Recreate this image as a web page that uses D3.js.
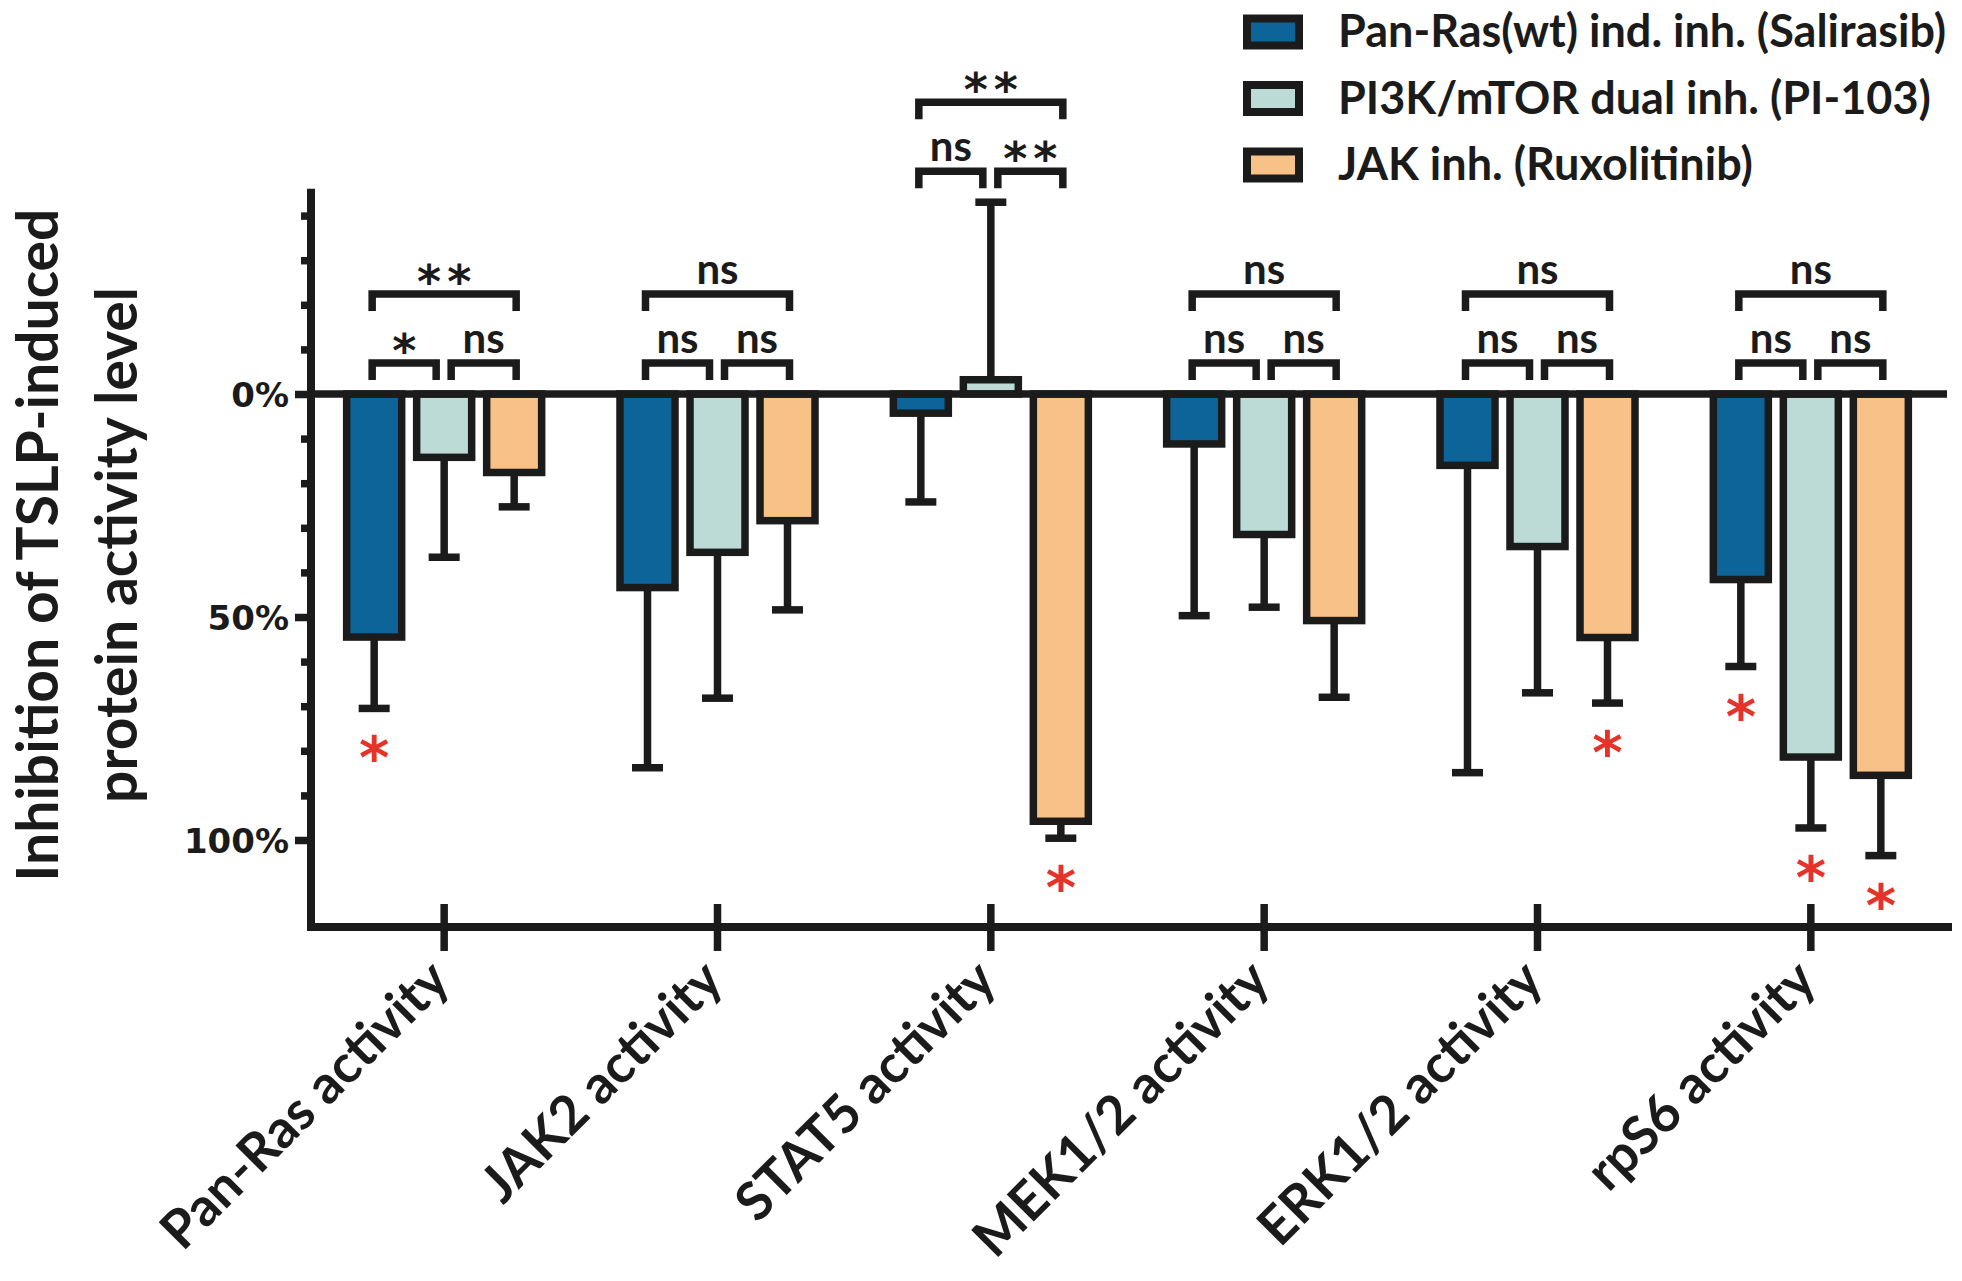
<!DOCTYPE html>
<html>
<head>
<meta charset="utf-8">
<script src="https://cdn.jsdelivr.net/npm/d3@7"></script>
<style>
  body { margin: 0; background: #fff; }
  svg { display: block; }
  text { font-family: Lato, "Open Sans", sans-serif; font-weight: 700; fill: #1b1b1b; }
  text.star { font-family: "DejaVu Sans", sans-serif; }
</style>
</head>
<body>
<svg id="chart" width="1962" height="1281"></svg>
<script>
// categories on the x axis
const categories = ["Pan-Ras activity", "JAK2 activity", "STAT5 activity", "MEK1/2 activity", "ERK1/2 activity", "rpS6 activity"];
const seriesNames = ["Pan-Ras(wt) ind. inh. (Salirasib)", "PI3K/mTOR dual inh. (PI-103)", "JAK inh. (Ruxolitinib)"];

// % inhibition (mean) and error (SD) for each inhibitor
const salirasib = [54.5, 43.4, 4.3, 11.2, 16.0, 41.6];
const salirasibErr = [16.0, 40.4, 19.9, 38.5, 68.9, 19.5];
const pi103 = [14.2, 35.5, -3.2, 31.5, 34.2, 81.4];
const pi103Err = [22.4, 32.7, 39.8, 16.3, 32.8, 15.9];
const ruxolitinib = [17.6, 28.4, 95.8, 50.8, 54.6, 85.5];
const ruxolitinibErr = [7.7, 20.0, 3.8, 17.2, 14.7, 18.0];

// significant vs TSLP alone (red star)
const salirasibSig = [true, false, false, false, false, true];
const pi103Sig = [false, false, false, false, false, true];
const ruxolitinibSig = [false, false, true, false, true, true];

// pairwise comparisons between inhibitors
const sigSalPi = ["*", "ns", "ns", "ns", "ns", "ns"];
const sigPiRux = ["ns", "ns", "**", "ns", "ns", "ns"];
const sigSalRux = ["**", "ns", "**", "ns", "ns", "ns"];

// y axis ticks
const majorTicks = [0, 50, 100];
const majorLabels = ["0%", "50%", "100%"];
const minorTicks = [-40, -30, -20, -10, 10, 20, 30, 40, 60, 70, 80, 90];
const yExtent = [-46, 119.5];

const colors = ["#0c6499", "#bcdbd7", "#f8c187"];
const ink = "#1b1b1b";
const red = "#e63329";
const sw = 7.5;

const series = [
  { name: seriesNames[0], values: salirasib, err: salirasibErr, sig: salirasibSig },
  { name: seriesNames[1], values: pi103, err: pi103Err, sig: pi103Sig },
  { name: seriesNames[2], values: ruxolitinib, err: ruxolitinibErr, sig: ruxolitinibSig }
];

const svg = d3.select("#chart");

const x = d3.scaleBand().domain(categories).range([307.5, 1947.5]);
const xSub = d3.scalePoint().domain([0, 1, 2]).range([-70, 70]);
const y = d3.scaleLinear().domain([0, 100]).range([394, 840]);
const barW = 55;

const cx = (cat) => x(cat) + x.bandwidth() / 2;

// flat list of bars
let bars = [];
categories.forEach((cat, i) => {
  series.forEach((s, j) => {
    bars.push({ cat, i, j, v: s.values[i], e: s.err[i], sig: s.sig[i] });
  });
});

// error bars (away from zero)
const errG = svg.append("g");
errG.selectAll("line.stem")
  .data(bars)
  .join("line")
  .attr("x1", d => cx(d.cat) + xSub(d.j))
  .attr("x2", d => cx(d.cat) + xSub(d.j))
  .attr("y1", d => y(d.v))
  .attr("y2", d => y(d.v + Math.sign(d.v) * d.e))
  .attr("stroke", ink)
  .attr("stroke-width", sw);
errG.selectAll("line.cap")
  .data(bars)
  .join("line")
  .attr("x1", d => cx(d.cat) + xSub(d.j) - 15.5)
  .attr("x2", d => cx(d.cat) + xSub(d.j) + 15.5)
  .attr("y1", d => y(d.v + Math.sign(d.v) * d.e))
  .attr("y2", d => y(d.v + Math.sign(d.v) * d.e))
  .attr("stroke", ink)
  .attr("stroke-width", sw);

// bars
svg.append("g")
  .selectAll("rect")
  .data(bars)
  .join("rect")
  .attr("x", d => cx(d.cat) + xSub(d.j) - barW / 2)
  .attr("width", barW)
  .attr("y", d => Math.min(y(0), y(d.v)))
  .attr("height", d => Math.abs(y(d.v) - y(0)))
  .attr("fill", d => colors[d.j])
  .attr("stroke", ink)
  .attr("stroke-width", sw);

// red stars below significant bars
svg.append("g")
  .selectAll("text")
  .data(bars.filter(d => d.sig))
  .join("text")
  .attr("class", "star")
  .attr("x", d => cx(d.cat) + xSub(d.j))
  .attr("y", d => y(d.v + d.e) + 70)
  .attr("text-anchor", "middle")
  .style("font-size", "58px")
  .style("fill", red)
  .text("*");

// zero line
svg.append("line")
  .attr("x1", 311).attr("x2", 1947)
  .attr("y1", y(0)).attr("y2", y(0))
  .attr("stroke", ink).attr("stroke-width", sw);

// y axis
const yAxisG = svg.append("g").attr("transform", "translate(311,0)");
yAxisG.append("line")
  .attr("y1", y(yExtent[0])).attr("y2", y(yExtent[1]) + sw / 2)
  .attr("stroke", ink).attr("stroke-width", 8);
const yMinor = yAxisG.append("g")
  .call(d3.axisLeft(y).tickValues(minorTicks).tickSize(10).tickFormat(""));
const yMajor = yAxisG.append("g")
  .call(d3.axisLeft(y).tickValues(majorTicks).tickSize(16).tickPadding(6)
    .tickFormat((d, i) => majorLabels[i]));
[yMinor, yMajor].forEach(g => {
  g.select(".domain").remove();
  g.selectAll(".tick line").attr("stroke", ink).attr("stroke-width", sw);
});
yMajor.selectAll(".tick text")
  .style("font-family", "'DejaVu Sans', sans-serif")
  .style("font-weight", "700")
  .style("font-size", "34px")
  .attr("fill", ink)
  .attr("dy", "0.36em");

// x axis
const xAxisY = y(yExtent[1]);
const xAxisG = svg.append("g").attr("transform", `translate(0,${xAxisY})`);
xAxisG.append("line")
  .attr("x1", 307).attr("x2", 1952)
  .attr("stroke", ink).attr("stroke-width", 8);
const xAx = xAxisG.append("g").call(d3.axisBottom(x).tickSize(24).tickFormat(""));
xAx.select(".domain").remove();
xAx.selectAll(".tick line").attr("y1", -23).attr("stroke", ink).attr("stroke-width", sw);

svg.append("g")
  .selectAll("text")
  .data(categories)
  .join("text")
  .attr("transform", d => `translate(${cx(d) + 8},${xAxisY + 56}) rotate(-45)`)
  .attr("text-anchor", "end")
  .style("font-size", "53px")
  .text(d => d);

// y title
const yTitle = svg.append("g").attr("transform", "translate(0,545) rotate(-90)");
yTitle.append("text").attr("x", 0).attr("y", 58).attr("text-anchor", "middle")
  .style("font-size", "57px").text("Inhibition of TSLP-induced");
yTitle.append("text").attr("x", 0).attr("y", 137).attr("text-anchor", "middle")
  .style("font-size", "57px").text("protein activity level");

// comparison brackets
const bracketG = svg.append("g");
categories.forEach((cat, i) => {
  const c0 = cx(cat) + xSub(0), c1 = cx(cat) + xSub(1), c2 = cx(cat) + xSub(2);
  let top = 0;
  series.forEach(s => {
    const v = s.values[i];
    if (v < 0) top = Math.min(top, v - s.err[i]);
  });
  const ySmall = y(top) - 31;
  const yBig = ySmall - 69;
  const legs = [
    { x1: c0 - 2, x2: c1 - 8, yl: ySmall, label: sigSalPi[i] },
    { x1: c1 + 7, x2: c2 + 2, yl: ySmall, label: sigPiRux[i] },
    { x1: c0 - 2, x2: c2 + 2, yl: yBig, label: sigSalRux[i] }
  ];
  legs.forEach(b => {
    bracketG.append("path")
      .attr("d", `M${b.x1},${b.yl + 17}V${b.yl}H${b.x2}V${b.yl + 17}`)
      .attr("fill", "none").attr("stroke", ink).attr("stroke-width", sw)
      .attr("stroke-linejoin", "miter");
    const star = b.label !== "ns";
    bracketG.append("text")
      .attr("class", star ? "star" : null)
      .attr("x", (b.x1 + b.x2) / 2 + (star ? 3 : 0))
      .attr("y", star ? b.yl + 4 : b.yl - 10)
      .attr("text-anchor", "middle")
      .style("font-size", star ? "46px" : "42px")
      .style("letter-spacing", star ? "6px" : "0px")
      .text(b.label);
  });
});

// legend
const legend = svg.append("g");
series.forEach((s, j) => {
  const cyL = 32 + j * 66.5;
  legend.append("rect")
    .attr("x", 1247).attr("y", cyL - 13.5)
    .attr("width", 52).attr("height", 27)
    .attr("fill", colors[j]).attr("stroke", ink).attr("stroke-width", 8);
  legend.append("text")
    .attr("x", 1338).attr("y", cyL + 15)
    .style("font-size", "45px")
    .text(s.name);
});
</script>
</body>
</html>
